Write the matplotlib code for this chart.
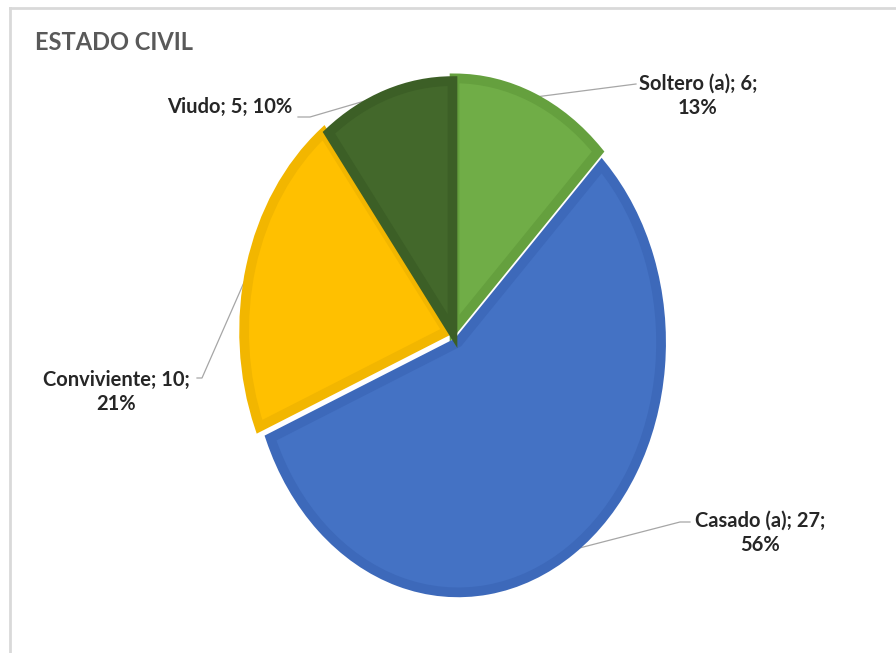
import numpy as np
import matplotlib.pyplot as plt
from matplotlib.lines import Line2D

# datos
categorias = ['Soltero (a)', 'Casado (a)', 'Conviviente', 'Viudo']
valores = [6, 27, 10, 5]
porcentajes = [13, 56, 21, 10]

colores = ['#70AD47', '#4472C4', '#FFC000', '#43682B']
bordes = ['#65A03E', '#3D69BA', '#F2B600', '#3C5F26']
explode = [0.02, 0.045, 0.03, 0.008]

W, H = 896, 653
cx, cy = 453, 333      # centro del pie en pixeles
rx, ry = 203, 250      # radios (la imagen esta comprimida en horizontal)

plt.rcParams['font.family'] = ['Lato', 'DejaVu Sans']

fig = plt.figure(figsize=(W / 100, H / 100), dpi=100)
ax = fig.add_axes([0, 0, 1, 1])

wedges, _ = ax.pie(valores, colors=colores, startangle=90, counterclock=False,
                   explode=explode, wedgeprops=dict(linewidth=7))
for w, c in zip(wedges, bordes):
    w.set_edgecolor(c)
    w.set_clip_path(w)  # borde solo hacia dentro

ax.set_aspect('auto')
ax.set_xlim(-cx / rx, (W - cx) / rx)
ax.set_ylim(-(H - cy) / ry, cy / ry)
ax.axis('off')


def a_datos(x, y):
    return (x - cx) / rx, (cy - y) / ry


# etiquetas: posicion del texto, fin de la linea guia, codo horizontal
pos_texto = [(698, 96), (760, 533), (116, 392), (230, 107)]
fin_guia = [(636, 84), (690, 522), (197, 378), (298, 117)]
codo = [0, -10, 5, 12]
saltos = ['\n', '\n', '\n', ' ']

for w, cat, v, p, (tx, ty), (gx, gy), dx, s in zip(
        wedges, categorias, valores, porcentajes, pos_texto, fin_guia, codo, saltos):
    ang = np.deg2rad((w.theta1 + w.theta2) / 2)
    x0 = w.center[0] + w.r * np.cos(ang)
    y0 = w.center[1] + w.r * np.sin(ang)
    xe, ye = a_datos(gx, gy)
    xc, yc = a_datos(gx + dx, gy)
    ax.plot([x0, xc, xe], [y0, yc, ye], color='#A6A6A6', lw=0.9, zorder=0)
    ax.text(tx / W, 1 - ty / H, f'{cat}; {v};{s}{p}%', transform=ax.transAxes,
            ha='center', va='center', fontsize=14.5, fontweight='bold',
            color='#262626', linespacing=1.3)

fig.text(35 / W, 1 - 43 / H, 'ESTADO CIVIL', ha='left', va='center',
         fontsize=17, fontweight='bold', color='#595959')

# marco del grafico
fig.add_artist(Line2D([10 / W, 1], [1 - 8 / H, 1 - 8 / H], transform=fig.transFigure,
                      color='#D9D9D9', lw=2))
fig.add_artist(Line2D([10 / W, 10 / W], [0, 1 - 8 / H], transform=fig.transFigure,
                      color='#D9D9D9', lw=2))

fig.savefig('out.png', dpi=100)
